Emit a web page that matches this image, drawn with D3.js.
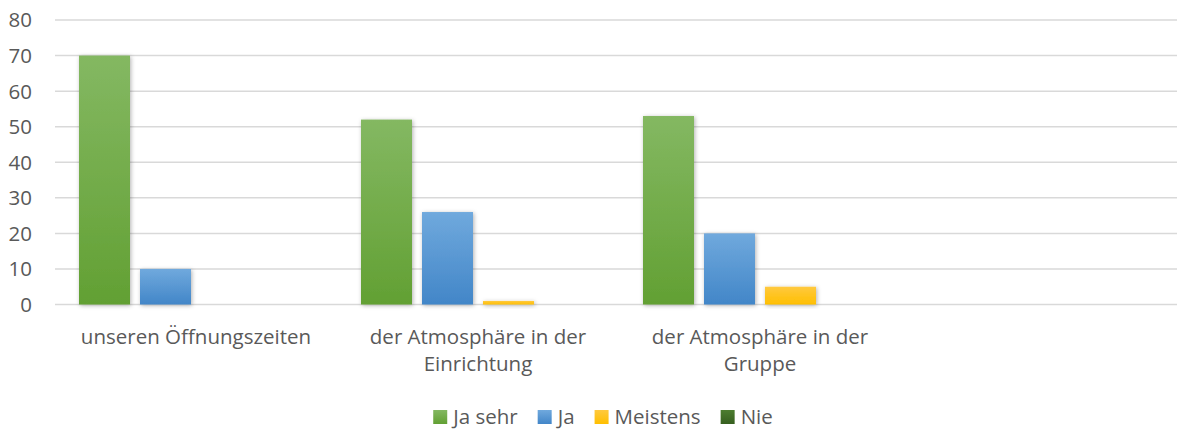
<!DOCTYPE html>
<html>
<head>
<meta charset="utf-8">
<script src="https://cdn.jsdelivr.net/npm/d3@7"></script>
<style>
  body { margin: 0; background: #fff; }
  svg { display: block; font-family: "Open Sans", Lato, sans-serif; }
</style>
</head>
<body>
<div id="chart"></div>
<script>
const categories = [
  ["unseren Öffnungszeiten"],
  ["der Atmosphäre in der", "Einrichtung"],
  ["der Atmosphäre in der", "Gruppe"],
  [""]
];
const seriesNames = ["Ja sehr", "Ja", "Meistens", "Nie"];
const jaSehr = [70, 52, 53, 0];
const ja = [10, 26, 20, 0];
const meistens = [0, 1, 5, 0];
const nie = [0, 0, 0, 0];
const yTicks = [0, 10, 20, 30, 40, 50, 60, 70, 80];

const colors = [
  ["#84b862", "#62a033"],
  ["#70a9dd", "#4286c8"],
  ["#ffc93f", "#ffbf00"],
  ["#4d7d30", "#365f1f"]
];

const width = 1177, height = 430;
const margin = { left: 55, top: 20, bottom: 304.5 };
const bandW = 282;
const fontSize = "20.5px";

const svg = d3.select("#chart").append("svg")
  .attr("width", width).attr("height", height);

const defs = svg.append("defs");
colors.forEach((c, i) => {
  const g = defs.append("linearGradient").attr("id", "grad" + i)
    .attr("x1", 0).attr("y1", 0).attr("x2", 0).attr("y2", 1);
  g.append("stop").attr("offset", "0%").attr("stop-color", c[0]);
  g.append("stop").attr("offset", "100%").attr("stop-color", c[1]);
});
defs.append("filter").attr("id", "shadow")
  .attr("x", "-20%").attr("y", "-20%").attr("width", "140%").attr("height", "140%")
  .append("feDropShadow")
  .attr("dx", 1).attr("dy", 1).attr("stdDeviation", 2)
  .attr("flood-color", "#000").attr("flood-opacity", 0.3);

const x0 = d3.scaleBand()
  .domain(d3.range(categories.length))
  .range([margin.left, margin.left + bandW * categories.length]);

const x1 = d3.scaleBand()
  .domain(d3.range(seriesNames.length))
  .range([24, 258])
  .paddingInner(10 / 61);

const y = d3.scaleLinear().domain([0, 80]).range([margin.bottom, margin.top]);

// gridlines
svg.append("g").selectAll("line").data(yTicks).join("line")
  .attr("x1", margin.left).attr("x2", width)
  .attr("y1", d => y(d)).attr("y2", d => y(d))
  .attr("stroke", "#d9d9d9").attr("stroke-width", 1.5);

// y tick labels
svg.append("g").selectAll("text").data(yTicks).join("text")
  .attr("x", 32).attr("y", d => y(d))
  .attr("dy", "0.36em")
  .attr("text-anchor", "end")
  .attr("fill", "#595959")
  .style("font-size", fontSize)
  .text(d => d);

// bars
const allSeries = [jaSehr, ja, meistens, nie];
allSeries.forEach((vals, s) => {
  svg.append("g")
    .attr("filter", "url(#shadow)")
    .selectAll("rect").data(vals).join("rect")
    .attr("x", (d, i) => x0(i) + x1(s))
    .attr("width", x1.bandwidth())
    .attr("y", d => y(d))
    .attr("height", d => y(0) - y(d))
    .attr("fill", "url(#grad" + s + ")");
});

// category labels
const catG = svg.append("g");
categories.forEach((lines, i) => {
  const t = catG.append("text")
    .attr("x", x0(i) + bandW / 2)
    .attr("y", 344)
    .attr("text-anchor", "middle")
    .attr("fill", "#595959")
    .style("font-size", fontSize);
  lines.forEach((l, k) => {
    t.append("tspan").attr("x", x0(i) + bandW / 2)
      .attr("dy", k === 0 ? 0 : 27).text(l);
  });
});

// legend
const leg = svg.append("g");
let lx = 0;
seriesNames.forEach((name, i) => {
  const g = leg.append("g");
  g.append("rect").attr("x", 0).attr("y", -7).attr("width", 14).attr("height", 14)
    .attr("fill", "url(#grad" + i + ")");
  const t = g.append("text").attr("x", 20).attr("y", 0).attr("dy", "0.36em")
    .attr("fill", "#595959").style("font-size", fontSize).text(name);
  const w = 20 + t.node().getComputedTextLength();
  g.attr("transform", `translate(${lx},0)`);
  lx += w + 20;
});
const legW = lx - 20;
leg.attr("transform", `translate(${603 - legW / 2},417)`);
</script>
</body>
</html>
